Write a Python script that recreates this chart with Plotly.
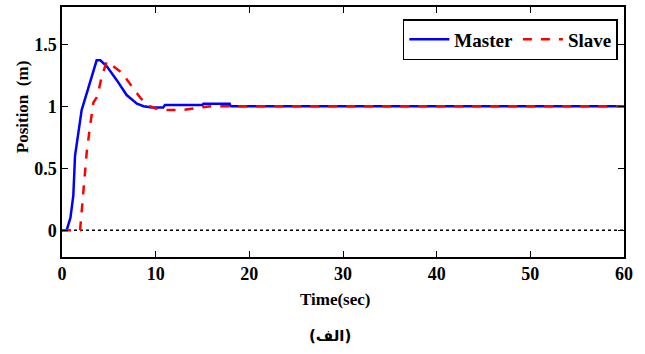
import plotly.graph_objects as go

# Master response
t_master = [0, 0.5, 0.9, 1.21, 1.39, 1.75, 2.1, 2.46, 3.0, 3.35, 3.7, 4.1, 4.8, 5.85, 6.9, 8.0, 8.7, 9.6, 10.8, 11.0, 15.0, 15.1, 17.9, 18.0, 60]
y_master = [0, 0, 0.1, 0.28, 0.6, 0.79, 0.97, 1.06, 1.19, 1.29, 1.37, 1.37, 1.32, 1.21, 1.09, 1.02, 1.0, 0.99, 0.99, 1.01, 1.01, 1.02, 1.02, 1.0, 1.0]

# Slave response
t_slave = [0, 1.93, 2.1, 2.35, 2.64, 3.0, 3.35, 3.78, 4.24, 4.78, 5.5, 6.4, 7.45, 8.34, 9.06, 10.1, 11.0, 13.0, 14.8, 16.0, 60]
y_slave = [0, 0, 0.15, 0.36, 0.63, 0.84, 1.03, 1.08, 1.24, 1.36, 1.32, 1.27, 1.16, 1.07, 1.01, 0.98, 0.97, 0.97, 0.99, 1.0, 1.0]

x_ticks = [0, 10, 20, 30, 40, 50, 60]
y_ticks = [0, 0.5, 1, 1.5]
y_tick_labels = ["0", "0.5", "1", "1.5"]

serif = "Liberation Serif"

fig = go.Figure()
# zero reference line
fig.add_trace(go.Scatter(x=[0, 60], y=[0, 0], mode="lines",
                         line=dict(color="black", width=1.5, dash="dot"),
                         showlegend=False, hoverinfo="skip"))
fig.add_trace(go.Scatter(x=t_master, y=y_master, mode="lines", name="Master",
                         line=dict(color="#0000ff", width=2.5)))
fig.add_trace(go.Scatter(x=t_slave, y=y_slave, mode="lines", name="Slave",
                         line=dict(color="#ff0000", width=2.5, dash="dash")))

fig.update_layout(
    width=645, height=354,
    margin=dict(l=62, r=21, t=5, b=97),
    paper_bgcolor="white", plot_bgcolor="white",
    font=dict(family=serif, color="black"),
    showlegend=True,
    legend=dict(
        orientation="h", x=0.989, xanchor="right", y=0.952, yanchor="top",
        bordercolor="black", borderwidth=1.5, bgcolor="white",
        font=dict(family=serif, size=19, color="black", weight=700),
        itemwidth=40,
    ),
    xaxis=dict(
        range=[0, 60], tickvals=x_ticks, ticks="inside", ticklen=6,
        tickcolor="black", showline=True, linecolor="black", linewidth=1.5,
        mirror="ticks", showgrid=False, zeroline=False,
        tickfont=dict(family=serif, size=18, color="black", weight=700),
    ),
    yaxis=dict(
        range=[-0.216, 1.8], tickvals=y_ticks, ticktext=y_tick_labels,
        ticks="inside", ticklen=6, tickcolor="black", showline=True,
        linecolor="black", linewidth=1.5, mirror="ticks", showgrid=False,
        zeroline=False,
        tickfont=dict(family=serif, size=18, color="black", weight=700),
    ),
    annotations=[
        dict(text="Time(sec)", xref="paper", yref="paper", x=0.486, y=-0.171,
             xanchor="center", yanchor="middle", showarrow=False,
             font=dict(family=serif, size=17, color="black", weight=700)),
        dict(text="(الف)", xref="paper", yref="paper", x=0.477, y=-0.317,
             xanchor="center", yanchor="middle", showarrow=False,
             font=dict(family="DejaVu Sans", size=15, color="black", weight=700)),
        dict(text="Position  (m)", xref="paper", yref="paper", x=-0.0712, y=0.603,
             xanchor="center", yanchor="middle", showarrow=False, textangle=-90,
             font=dict(family=serif, size=17, color="black", weight=700)),
    ],
)

fig.write_html("out.html")
